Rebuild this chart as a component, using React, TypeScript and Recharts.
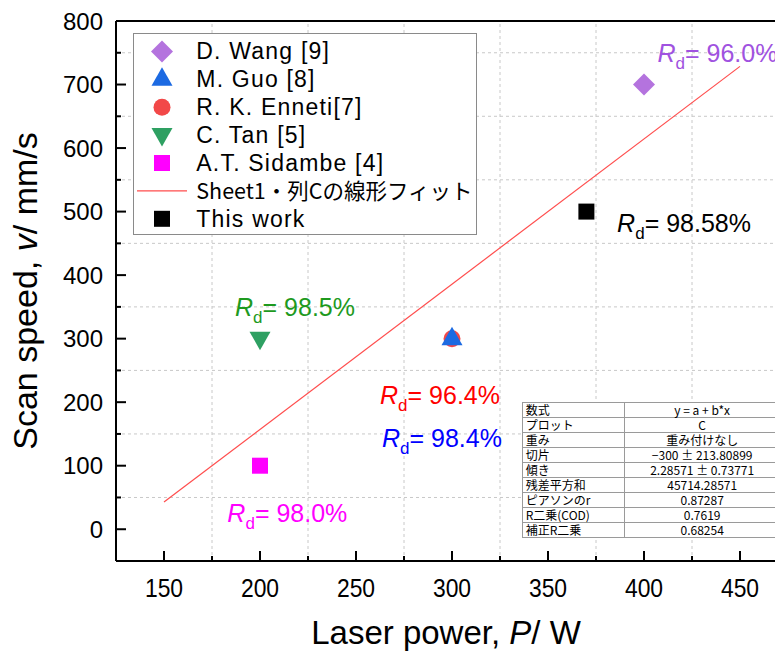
import { ScatterChart, Scatter, XAxis, YAxis, ReferenceLine } from 'recharts';

if (typeof document !== 'undefined') {
  document.documentElement.style.overflow = 'hidden';
}

const FONT = '"Liberation Sans", Arial, sans-serif';
const JP_FONT = '"Noto Sans CJK JP", "Liberation Sans", sans-serif';

// axes
const xMajor = [150, 200, 250, 300, 350, 400, 450];
const xTicks = [150, 175, 200, 225, 250, 275, 300, 325, 350, 375, 400, 425, 450];
const yMajor = [0, 100, 200, 300, 400, 500, 600, 700, 800];
const yTicks = [0, 50, 100, 150, 200, 250, 300, 350, 400, 450, 500, 550, 600, 650, 700, 750, 800];
const gridX = [175, 225, 275, 325, 375, 425];
const gridY = [50, 150, 250, 350, 450, 550, 650, 750];

// data
const wang = [{ x: 400, y: 700 }];
const guo = [{ x: 300, y: 300 }];
const enneti = [{ x: 300, y: 300 }];
const tan = [{ x: 200, y: 300 }];
const sidambe = [{ x: 200, y: 100 }];
const thisWork = [{ x: 370, y: 500 }];
const fitLine = [{ x: 150, y: 42.9 }, { x: 450, y: 728.6 }];

// R_d annotations (anchor = left edge / vertical centre, data units)
const rdLabels = [
  { x: 407, y: 750, text: '= 96.0%' },
  { x: 386, y: 482, text: '= 98.58%' },
  { x: 187, y: 350, text: '= 98.5%' },
  { x: 183, y: 26, text: '= 98.0%' },
  { x: 262.5, y: 211, text: '= 96.4%' },
  { x: 263.5, y: 144, text: '= 98.4%' },
];
const rdColors = ['#A052E0', '#000000', '#1E9A1E', '#FF00FF', '#FF0000', '#0000FF'];

const fitRows = [
  ['数式', 'y = a + b*x'],
  ['プロット', 'C'],
  ['重み', '重み付けなし'],
  ['切片', '−300 ± 213.80899'],
  ['傾き', '2.28571 ± 0.73771'],
  ['残差平方和', '45714.28571'],
  ['ピアソンのr', '0.87287'],
  ['R二乗(COD)', '0.7619'],
  ['補正R二乗', '0.68254'],
];

type Kind = 'diamond' | 'up' | 'down' | 'circle' | 'square' | 'line';

const legendItems: { name: string; kind: Kind; color: string }[] = [
  { name: 'D. Wang [9]', kind: 'diamond', color: '#B473DE' },
  { name: 'M. Guo [8]', kind: 'up', color: '#1C6AE2' },
  { name: 'R. K. Enneti[7]', kind: 'circle', color: '#F24848' },
  { name: 'C. Tan [5]', kind: 'down', color: '#2EA062' },
  { name: 'A.T. Sidambe [4]', kind: 'square', color: '#FF00FF' },
  { name: 'Sheet1・列Cの線形フィット', kind: 'line', color: '#FF4D4D' },
  { name: 'This work', kind: 'square', color: '#000000' },
];

function Mark({ kind, cx, cy, color }: { kind: Kind; cx: number; cy: number; color: string }) {
  switch (kind) {
    case 'diamond':
      return <polygon points={`${cx},${cy - 11} ${cx + 11},${cy} ${cx},${cy + 11} ${cx - 11},${cy}`} fill={color} />;
    case 'up':
      return <polygon points={`${cx},${cy - 12} ${cx + 10.5},${cy + 6.5} ${cx - 10.5},${cy + 6.5}`} fill={color} />;
    case 'down':
      return <polygon points={`${cx},${cy + 11.5} ${cx + 10.5},${cy - 7} ${cx - 10.5},${cy - 7}`} fill={color} />;
    case 'circle':
      return <circle cx={cx} cy={cy} r={8.5} fill={color} />;
    case 'square':
      return <rect x={cx - 8} y={cy - 8} width={16} height={16} fill={color} />;
    default:
      return <line x1={cx - 25} x2={cx + 25} y1={cy} y2={cy} stroke={color} strokeWidth={1.2} />;
  }
}

const BottomTick = (p: any) => {
  const { x, y, payload } = p;
  const major = xMajor.includes(payload.value);
  return (
    <g>
      <line x1={x} x2={x} y1={y} y2={y - (major ? 10 : 5)} stroke="#000" strokeWidth={2} />
      {major && (
        <text transform={`translate(${x},${y + 36}) scale(0.88,1)`} textAnchor="middle" fontSize={26} fontFamily={FONT} fill="#000">
          {payload.value}
        </text>
      )}
    </g>
  );
};

const TopTick = (p: any) => {
  const { x, y } = p;
  return <line x1={x} x2={x} y1={y} y2={y + 10} stroke="#000" strokeWidth={2} />;
};

const LeftTick = (p: any) => {
  const { x, y, payload } = p;
  const major = yMajor.includes(payload.value);
  return (
    <g>
      <line x1={x} x2={x + (major ? 10 : 5)} y1={y} y2={y} stroke="#000" strokeWidth={2} />
      {major && (
        <text x={x - 13} y={y + 8.5} textAnchor="end" fontSize={24} fontFamily={FONT} fill="#000">
          {payload.value}
        </text>
      )}
    </g>
  );
};

const RightTick = (p: any) => {
  const { x, y, payload } = p;
  const major = yMajor.includes(payload.value);
  return <line x1={x} x2={x - (major ? 10 : 5)} y1={y} y2={y} stroke="#000" strokeWidth={2} />;
};

const XTitle = () => (
  <text x={438} y={636} textAnchor="middle" fontSize={33} fontFamily={FONT} fill="#000">
    {'Laser power, '}
    <tspan fontStyle="italic">P</tspan>
    {'/ W'}
  </text>
);

const YTitle = () => (
  <text transform="translate(29,283) rotate(-90)" textAnchor="middle" fontSize={34} fontFamily={FONT} fill="#000">
    {'Scan speed, '}
    <tspan fontStyle="italic">v</tspan>
    {'/ mm/s'}
  </text>
);

function RdLabel({ cx, cy, text, color }: { cx: number; cy: number; text: string; color: string }) {
  return (
    <text x={cx} y={cy + 9} fontSize={25} fontFamily={FONT} fill={color}>
      <tspan fontStyle="italic">R</tspan>
      <tspan fontSize={17} dy={7}>d</tspan>
      <tspan dy={-7}>{text}</tspan>
    </text>
  );
}

const axisStyle = { stroke: '#000', strokeWidth: 2 };

function LegendBox() {
  return (
    <svg width={344} height={202} style={{ position: 'absolute', left: 124.7, top: 25.3 }}>
      <rect x={0.5} y={0.5} width={343} height={201} fill="#fff" stroke="#8a8a8a" strokeWidth={1} />
      {legendItems.map((it, i) => {
        const cy = 18.4 + i * 27.9;
        const jp = it.kind === 'line';
        return (
          <g key={it.name}>
            <Mark kind={it.kind} cx={29} cy={cy} color={it.color} />
            <text
              x={63.3}
              y={cy + 8}
              fontSize={jp ? 21.5 : 23}
              letterSpacing={jp ? 0 : 1.2}
              fontFamily={jp ? JP_FONT : FONT}
              fill="#000"
            >
              {it.name}
            </text>
          </g>
        );
      })}
    </svg>
  );
}

function FitTable() {
  const cell = {
    border: '1px solid #9a9a9a',
    height: 14,
    padding: '0 3px',
    lineHeight: '14px',
    whiteSpace: 'nowrap' as const,
  };
  return (
    <table
      style={{
        position: 'absolute',
        left: 513.7,
        top: 393.7,
        width: 258,
        borderCollapse: 'collapse',
        border: '1.5px solid #444',
        background: '#fff',
        fontSize: 12,
        tableLayout: 'fixed',
        color: '#000',
      }}
    >
      <colgroup>
        <col style={{ width: 102 }} />
        <col style={{ width: 156 }} />
      </colgroup>
      <tbody>
        {fitRows.map((r) => (
          <tr key={r[0]}>
            <td style={{ ...cell, fontFamily: JP_FONT }}>{r[0]}</td>
            <td style={{ ...cell, textAlign: 'center', fontFamily: JP_FONT }}>{r[1]}</td>
          </tr>
        ))}
      </tbody>
    </table>
  );
}

export default function App() {
  return (
    <div style={{ position: 'relative', width: 775, height: 646, overflow: 'hidden', background: '#fff' }}>
      <ScatterChart width={800} height={646} margin={{ top: 0, right: 0, bottom: 0, left: 0 }}>
        <XAxis
          dataKey="x"
          type="number"
          domain={[125, 475]}
          ticks={xTicks}
          interval={0}
          tickSize={0}
          tickMargin={0}
          tickLine={false}
          tick={BottomTick}
          axisLine={axisStyle}
          height={93}
          allowDataOverflow
          label={<XTitle />}
        />
        <XAxis
          xAxisId="top"
          orientation="top"
          type="number"
          domain={[125, 475]}
          ticks={xTicks}
          interval={0}
          tickSize={0}
          tickMargin={0}
          tickLine={false}
          tick={TopTick}
          axisLine={axisStyle}
          height={13}
          allowDataOverflow
        />
        <YAxis
          dataKey="y"
          type="number"
          domain={[-50, 800]}
          ticks={yTicks}
          interval={0}
          tickSize={0}
          tickMargin={0}
          tickLine={false}
          tick={LeftTick}
          axisLine={axisStyle}
          width={108}
          allowDataOverflow
          label={<YTitle />}
        />
        <YAxis
          yAxisId="right"
          orientation="right"
          type="number"
          domain={[-50, 800]}
          ticks={yTicks}
          interval={0}
          tickSize={0}
          tickMargin={0}
          tickLine={false}
          tick={RightTick}
          axisLine={axisStyle}
          width={20}
          allowDataOverflow
        />
        {gridX.map((v) => (
          <ReferenceLine key={`gx${v}`} x={v} stroke="#c8c8c8" strokeDasharray="3 3" strokeWidth={1} />
        ))}
        {gridY.map((v) => (
          <ReferenceLine key={`gy${v}`} y={v} stroke="#c8c8c8" strokeDasharray="3 3" strokeWidth={1} />
        ))}
        <ReferenceLine segment={fitLine} stroke="#FF4D4D" strokeWidth={1.2} />
        <Scatter data={wang} isAnimationActive={false} shape={(p: any) => <Mark kind="diamond" cx={p.cx} cy={p.cy} color={legendItems[0].color} />} />
        <Scatter data={enneti} isAnimationActive={false} shape={(p: any) => <Mark kind="circle" cx={p.cx} cy={p.cy} color={legendItems[2].color} />} />
        <Scatter data={guo} isAnimationActive={false} shape={(p: any) => <Mark kind="up" cx={p.cx} cy={p.cy} color={legendItems[1].color} />} />
        <Scatter data={tan} isAnimationActive={false} shape={(p: any) => <Mark kind="down" cx={p.cx} cy={p.cy} color={legendItems[3].color} />} />
        <Scatter data={sidambe} isAnimationActive={false} shape={(p: any) => <Mark kind="square" cx={p.cx} cy={p.cy} color={legendItems[4].color} />} />
        <Scatter data={thisWork} isAnimationActive={false} shape={(p: any) => <Mark kind="square" cx={p.cx} cy={p.cy} color={legendItems[6].color} />} />
        {rdLabels.map((a, i) => (
          <Scatter
            key={`rd${i}`}
            data={[a]}
            isAnimationActive={false}
            shape={(p: any) => <RdLabel cx={p.cx} cy={p.cy} text={a.text} color={rdColors[i]} />}
          />
        ))}
      </ScatterChart>
      <LegendBox />
      <FitTable />
    </div>
  );
}
